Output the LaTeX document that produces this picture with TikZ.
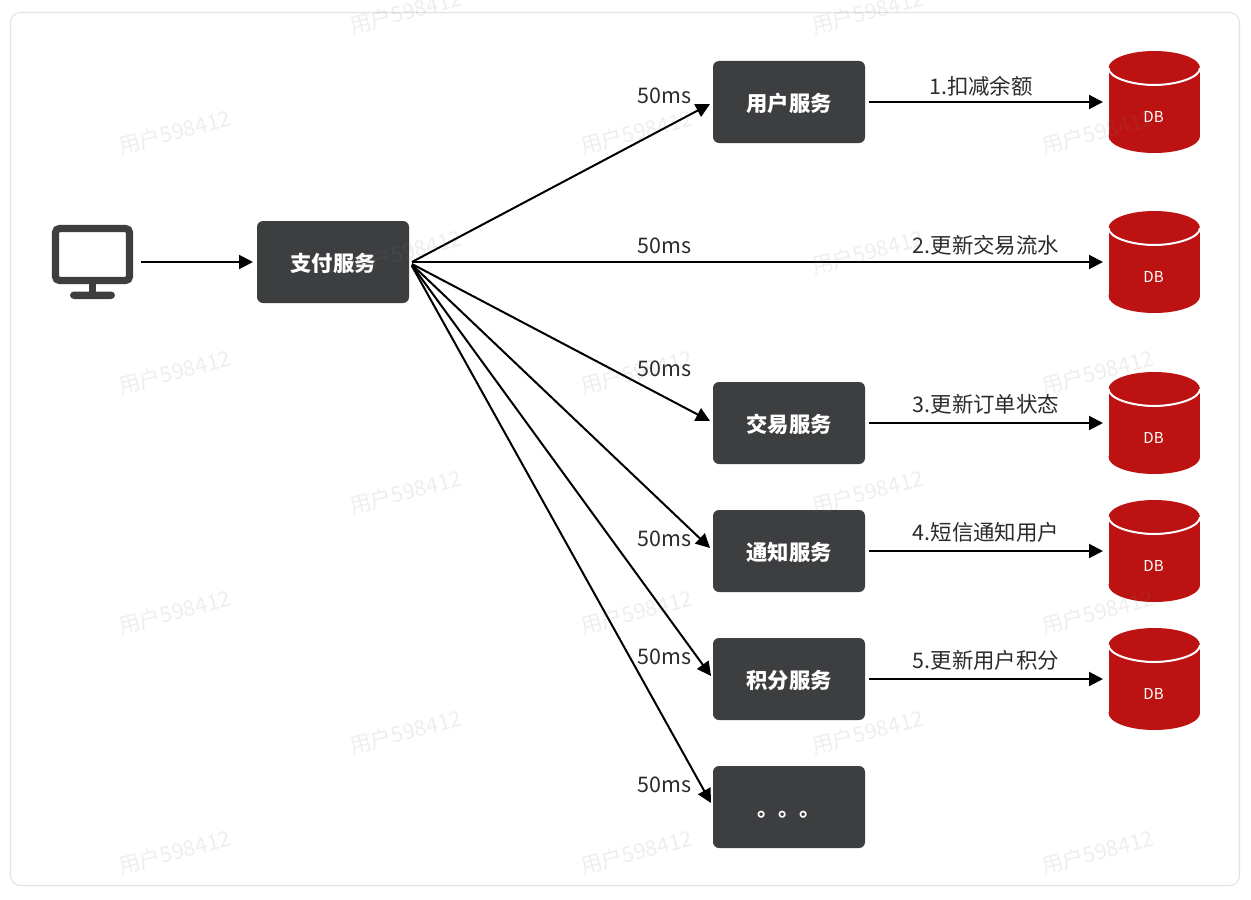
\documentclass[tikz,border=0pt]{standalone}
\usepackage{fontspec}
\setmainfont{Noto Sans CJK SC}
\usetikzlibrary{arrows.meta}
\definecolor{boxgray}{HTML}{3D3E40}
\definecolor{dbred}{HTML}{BD1212}
\definecolor{framegray}{HTML}{E2E2E2}
\definecolor{inkgray}{HTML}{2B2B2B}
\tikzset{
  svc/.style={fill=boxgray,rounded corners=4.5pt,minimum width=114pt,minimum height=61.5pt,inner sep=0pt,outer sep=3pt,text=white,font=\fontsize{16pt}{18pt}\selectfont\bfseries,text height=17pt,text depth=2.5pt},
  arr/.style={draw=black,line width=1.5pt,-{Triangle[length=10.5pt,width=10.5pt]}},
  lbl/.style={text=inkgray,font=\fontsize{16.1pt}{18pt}\selectfont,inner sep=0pt},
  dbanchor/.style={minimum width=69pt,minimum height=76.5pt,inner sep=0pt,outer sep=3.75pt},
  dbtext/.style={text=white,font=\fontsize{11.3pt}{13pt}\selectfont,inner sep=0pt},
  wm/.style={text=gray,opacity=.13,rotate=15,font=\fontsize{16.2pt}{18pt}\selectfont,inner sep=0pt},
  mon/.style={minimum width=61.5pt,minimum height=55.5pt,inner sep=0pt,outer sep=6pt},
}
\newcommand{\dbcyl}[2]{%
  \fill[dbred] (1108.5,#2-34) rectangle (1200,#2+34);
  \fill[dbred] (1154.25,#2-34) ellipse [x radius=45.75,y radius=17];
  \fill[dbred] (1154.25,#2+34) ellipse [x radius=45.75,y radius=17];
  \draw[white,line width=1.5pt] (1108.5,#2-34) .. controls (1108.5,#2-24) and (1133,#2-17) .. (1154.25,#2-17) .. controls (1175,#2-17) and (1200,#2-24) .. (1200,#2-34);
  \node[dbanchor] (#1) at (1154,#2) {};
  \node[dbtext] (#1t) at (1153.5,#2+15) {DB};
}
\begin{document}
\begin{tikzpicture}[x=.75pt,y=-.75pt]
\useasboundingbox (0,0) rectangle (1251,899);
\fill[white] (0,0) rectangle (1251,899);
\draw[framegray,line width=.8pt,rounded corners=7.5pt] (10.5,12.5) rectangle (1239.5,885.5);

% monitor
\node[mon] (pc) at (92,262) {};
\draw[boxgray,line width=5.4pt,rounded corners=3pt] (55.5,228.5) rectangle (129.5,280.5);
\fill[boxgray] (89,284) rectangle (96,293);
\fill[boxgray,rounded corners=2.9pt] (70,291.5) rectangle (115,299);

% services
\node[svc] (pay) at (333,262) {支付服务};
\node[svc] (user) at (789,102) {用户服务};
\node[svc] (trade) at (789,423) {交易服务};
\node[svc] (notify) at (789,551) {通知服务};
\node[svc] (points) at (789,679) {积分服务};
\node[svc] (more) at (789,807) {。。。};

% databases
\dbcyl{db1}{102}
\dbcyl{db2}{262}
\dbcyl{db3}{423}
\dbcyl{db4}{551}
\dbcyl{db5}{679}

% connectors
\draw[arr] (pc.east) -- (pay.west);
\draw[arr] ([xshift=-.8pt]pay.east) -- ([shift={(1,2)}]user.west);
\draw[arr] ([xshift=-.8pt]pay.east) -- (db2.west);
\draw[arr] ([shift={(-.8pt,-1.5pt)}]pay.east) -- ([shift={(1,-2)}]trade.west);
\draw[arr] ([shift={(-.8pt,-2pt)}]pay.east) -- ([shift={(1,-3)}]notify.west);
\draw[arr] ([shift={(-.8pt,-2.5pt)}]pay.east) -- ([shift={(2,-3)}]points.west);
\draw[arr] ([shift={(-.8pt,-3pt)}]pay.east) -- ([shift={(2,-4)}]more.west);
\draw[arr] (user.east) -- (db1.west);
\draw[arr] (trade.east) -- (db3.west);
\draw[arr] (notify.east) -- (db4.west);
\draw[arr] (points.east) -- (db5.west);

% labels
\node[lbl] (t1) at (664.5,96) {50ms};
\node[lbl] (t2) at (664.5,246) {50ms};
\node[lbl] (t3) at (664.5,369) {50ms};
\node[lbl] (t4) at (664.5,539) {50ms};
\node[lbl] (t5) at (664.5,657) {50ms};
\node[lbl] (t6) at (664.5,785) {50ms};
\node[lbl] (s1) at (981,86.5) {1.扣减余额};
\node[lbl] (s2) at (986,245.5) {2.更新交易流水};
\node[lbl] (s3) at (986,404.5) {3.更新订单状态};
\node[lbl] (s4) at (986,532.5) {4.短信通知用户};
\node[lbl] (s5) at (986,660.5) {5.更新用户积分};

% watermarks
\foreach \px/\py in {406/12,868/12,175/132,637/132,1098/132,406/252,868/252,175/372,637/372,1098/372,406/492,868/492,175/612,637/612,1098/612,406/732,868/732,175/852,637/852,1098/852}
  \node[wm] (w\px-\py) at (\px-.5,\py) {用户598412};
\end{tikzpicture}
\end{document}
